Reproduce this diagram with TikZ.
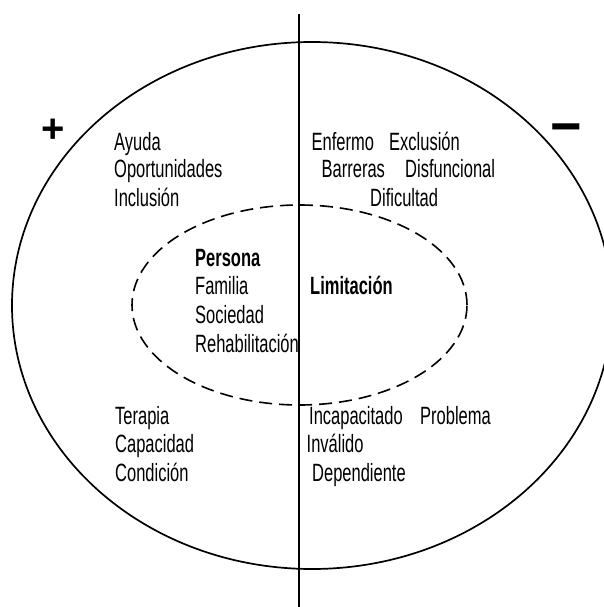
\documentclass[tikz,border=0pt]{standalone}
\usepackage{fontspec}
\setmainfont[FakeStretch=0.66]{Liberation Sans}
\newfontfamily\signfont{Liberation Sans}
\begin{document}
\begin{tikzpicture}[x=1pt,y=-1pt,
  word/.style={anchor=base west,inner sep=0pt,font=\fontsize{25}{28}\selectfont},
  bword/.style={word,font=\fontsize{25}{28}\selectfont\bfseries},
  sign/.style={inner sep=0pt,font=\signfont\fontsize{40}{42}\selectfont\bfseries}]
\useasboundingbox (0,0) rectangle (604,607);
\clip (0,0) rectangle (604,607);
% outer ellipse
\draw[line width=1.7pt] (312,305.5) ellipse [x radius=300pt, y radius=263.5pt];
% inner dashed ellipse
\draw[line width=1.6pt, dash pattern=on 13pt off 7pt] (299.5,305) ellipse [x radius=167.5pt, y radius=100pt];
% vertical axis
\draw[line width=1.7pt] (299,14) -- (299,610);
% signs
\node[sign] (plus) at (53,131) {+};
\node[sign, xscale=1.35, yscale=1.4] (minus) at (566,134.5) {−};
% upper left
\node[word] (ayuda) at (114,150) {Ayuda};
\node[word] (oport) at (114,177.5) {Oportunidades};
\node[word] (inclu) at (114,206) {Inclusión};
% upper right
\node[word] (enf) at (311.5,150) {Enfermo};
\node[word] (exc) at (389,150) {Exclusión};
\node[word] (bar) at (321.5,177.5) {Barreras};
\node[word] (dis) at (405,177.5) {Disfuncional};
\node[word] (dif) at (370,206) {Dificultad};
% inner
\node[bword] (pers) at (195,266) {Persona};
\node[word] (fam) at (195,294) {Familia};
\node[word] (soc) at (195,323) {Sociedad};
\node[word] (reh) at (195,352.5) {Rehabilitación};
\node[bword] (lim) at (310,294) {Limitación};
% lower left
\node[word] (ter) at (115,424.5) {Terapia};
\node[word] (cap) at (115,452.5) {Capacidad};
\node[word] (con) at (115,481.5) {Condición};
% lower right
\node[word] (inc) at (309,424.5) {Incapacitado};
\node[word] (prob) at (420,424.5) {Problema};
\node[word] (inv) at (306.5,452.5) {Inválido};
\node[word] (dep) at (312,481.5) {Dependiente};
\end{tikzpicture}
\end{document}
